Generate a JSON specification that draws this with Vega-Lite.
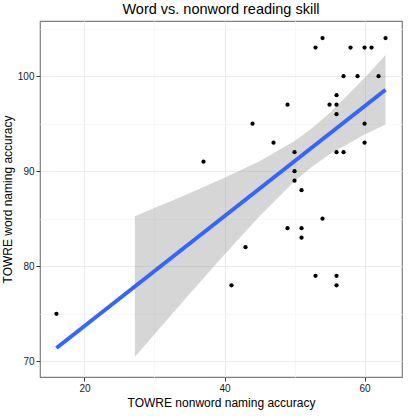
{
  "$schema": "https://vega.github.io/schema/vega-lite/v6.json",
  "width": 362,
  "height": 356,
  "autosize": {"type": "none"},
  "padding": {"left": 40, "top": 21, "right": 6, "bottom": 39},
  "background": "white",
  "title": {
    "text": "Word vs. nonword reading skill",
    "font": "Liberation Sans",
    "fontSize": 14.5,
    "fontWeight": "normal",
    "color": "black",
    "anchor": "middle",
    "offset": 4
  },
  "config": {
    "view": {"stroke": "#7F7F7F", "strokeWidth": 1.2},
    "axis": {
      "labelFont": "Liberation Sans",
      "labelFontSize": 10,
      "labelColor": "#1A1A1A",
      "titleFont": "Liberation Sans",
      "titleFontSize": 12,
      "titleFontWeight": "normal",
      "titleColor": "black",
      "domain": false,
      "tickColor": "#333333",
      "tickSize": 4,
      "labelPadding": 2
    }
  },
  "datasets": {
    "points": [
      {"nonword": 54, "word": 104}, {"nonword": 53, "word": 103}, {"nonword": 58, "word": 103},
      {"nonword": 60, "word": 103}, {"nonword": 61, "word": 103}, {"nonword": 63, "word": 104},
      {"nonword": 57, "word": 100}, {"nonword": 59, "word": 100}, {"nonword": 62, "word": 100},
      {"nonword": 56, "word": 98}, {"nonword": 55, "word": 97}, {"nonword": 56, "word": 97},
      {"nonword": 56, "word": 96}, {"nonword": 49, "word": 97}, {"nonword": 44, "word": 95},
      {"nonword": 60, "word": 95}, {"nonword": 47, "word": 93}, {"nonword": 60, "word": 93},
      {"nonword": 37, "word": 91}, {"nonword": 50, "word": 92}, {"nonword": 56, "word": 92},
      {"nonword": 57, "word": 92}, {"nonword": 50, "word": 90}, {"nonword": 50, "word": 89},
      {"nonword": 51, "word": 88}, {"nonword": 54, "word": 85}, {"nonword": 49, "word": 84},
      {"nonword": 51, "word": 84}, {"nonword": 51, "word": 83}, {"nonword": 43, "word": 82},
      {"nonword": 53, "word": 79}, {"nonword": 56, "word": 79}, {"nonword": 56, "word": 78},
      {"nonword": 41, "word": 78}, {"nonword": 16, "word": 75}
    ],
    "band": [
      {"nonword": 27.2, "lo": 70.47, "hi": 85.27},
      {"nonword": 30, "lo": 72.85, "hi": 86.13},
      {"nonword": 35, "lo": 77.07, "hi": 87.69},
      {"nonword": 40, "lo": 81.24, "hi": 89.3},
      {"nonword": 45, "lo": 85.27, "hi": 91.05},
      {"nonword": 50, "lo": 88.93, "hi": 93.17},
      {"nonword": 52.3, "lo": 90.36, "hi": 94.4},
      {"nonword": 55, "lo": 91.78, "hi": 96.1},
      {"nonword": 60, "lo": 93.86, "hi": 99.8},
      {"nonword": 63, "lo": 94.92, "hi": 102.22}
    ],
    "fit": [
      {"nonword": 16, "fit": 71.4},
      {"nonword": 63, "fit": 98.57}
    ]
  },
  "encoding": {
    "x": {
      "field": "nonword",
      "type": "quantitative",
      "title": "TOWRE nonword naming accuracy",
      "scale": {"domain": [13.65, 65.35], "nice": false, "zero": false},
      "axis": {
        "values": [20, 30, 40, 50, 60],
        "grid": true,
        "gridColor": {"condition": {"test": "datum.value % 20 === 0", "value": "#EBEBEB"}, "value": "#F7F7F7"},
        "tickOpacity": {"condition": {"test": "datum.value % 20 === 0", "value": 1}, "value": 0},
        "labelExpr": "datum.value % 20 === 0 ? datum.label : ''",
        "titlePadding": 4
      }
    }
  },
  "layer": [
    {
      "data": {"name": "band"},
      "mark": {"type": "area", "color": "#999999", "opacity": 0.4},
      "encoding": {
        "y": {
          "field": "lo",
          "type": "quantitative",
          "title": "TOWRE word naming accuracy",
          "scale": {"domain": [68.35, 105.8], "nice": false, "zero": false},
          "axis": {
            "values": [70, 75, 80, 85, 90, 95, 100, 105],
            "grid": true,
            "gridColor": {"condition": {"test": "datum.value % 10 === 0", "value": "#EBEBEB"}, "value": "#F7F7F7"},
            "tickOpacity": {"condition": {"test": "datum.value % 10 === 0", "value": 1}, "value": 0},
            "labelExpr": "datum.value % 10 === 0 ? datum.label : ''",
            "titlePadding": 3
          }
        },
        "y2": {"field": "hi"}
      }
    },
    {
      "data": {"name": "fit"},
      "mark": {"type": "line", "color": "#3366FF", "strokeWidth": 4},
      "encoding": {
        "y": {"field": "fit", "type": "quantitative"}
      }
    },
    {
      "data": {"name": "points"},
      "mark": {"type": "circle", "color": "black", "opacity": 1, "size": 18},
      "encoding": {
        "y": {"field": "word", "type": "quantitative"}
      }
    }
  ]
}
